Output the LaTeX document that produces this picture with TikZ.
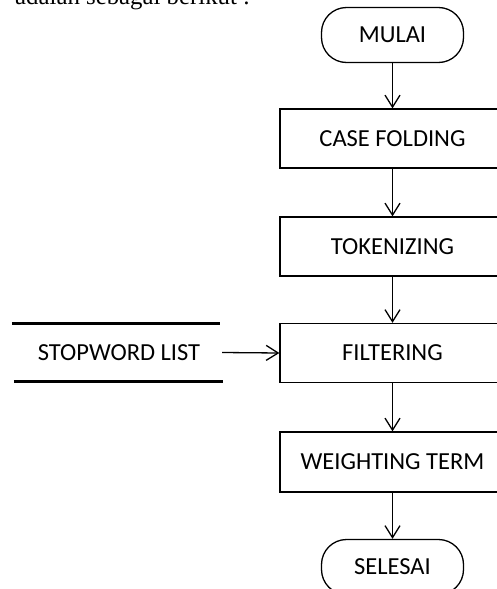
\documentclass[tikz,border=0pt]{standalone}
\usepackage{fontspec}
\setmainfont{Carlito}
\newfontfamily\serifpart{Liberation Serif}
\usetikzlibrary{arrows.meta}
\tikzset{
  proc/.style={draw, line width=1.3pt, minimum width=225pt, minimum height=59pt, inner sep=0pt, font=\fontsize{24.5}{28}\selectfont},
  term/.style={draw, line width=1.3pt, rounded corners=25pt, minimum width=142pt, minimum height=55pt, inner sep=0pt, font=\fontsize{24.5}{28}\selectfont},
  flow/.style={line width=1.3pt, -{Straight Barb[length=12pt, width=15pt, line width=1.3pt]}},
  store/.style={minimum width=206pt, minimum height=57pt, inner sep=0pt, font=\fontsize{24.5}{28}\selectfont},
  storeline/.style={line width=2.8pt}
}
\begin{document}
\begin{tikzpicture}[x=1pt, y=-1pt]
\useasboundingbox (0,0) rectangle (497,589);
\clip (0,0) rectangle (497,589);
\node[anchor=base west, font=\serifpart\fontsize{24.8}{28}\selectfont, inner sep=0pt] (intro) at (15,5) {adalah sebagai berikut :};
\node[term] (mulai) at (392.5,35) {MULAI};
\node[proc] (case) at (392.5,138.5) {CASE FOLDING};
\node[proc] (tok) at (392.5,246.5) {TOKENIZING};
\node[proc] (filt) at (392.5,353) {FILTERING};
\node[proc, minimum height=60pt] (weight) at (392.5,462) {WEIGHTING TERM};
\node[term] (selesai) at (392.5,567) {SELESAI};
\node[store] (stop) at (119,352.5) {STOPWORD LIST};
\draw[storeline] ([xshift=-4pt]stop.north west) -- ([xshift=-2pt]stop.north east);
\draw[storeline] ([xshift=-2pt]stop.south west) -- ([xshift=1pt]stop.south east);
\draw[flow] (mulai) -- (case);
\draw[flow] (case) -- (tok);
\draw[flow] (tok) -- (filt);
\draw[flow] (filt) -- (weight);
\draw[flow] (weight) -- (selesai);
\draw[flow] (stop.east) -- (filt.west);
\end{tikzpicture}
\end{document}
